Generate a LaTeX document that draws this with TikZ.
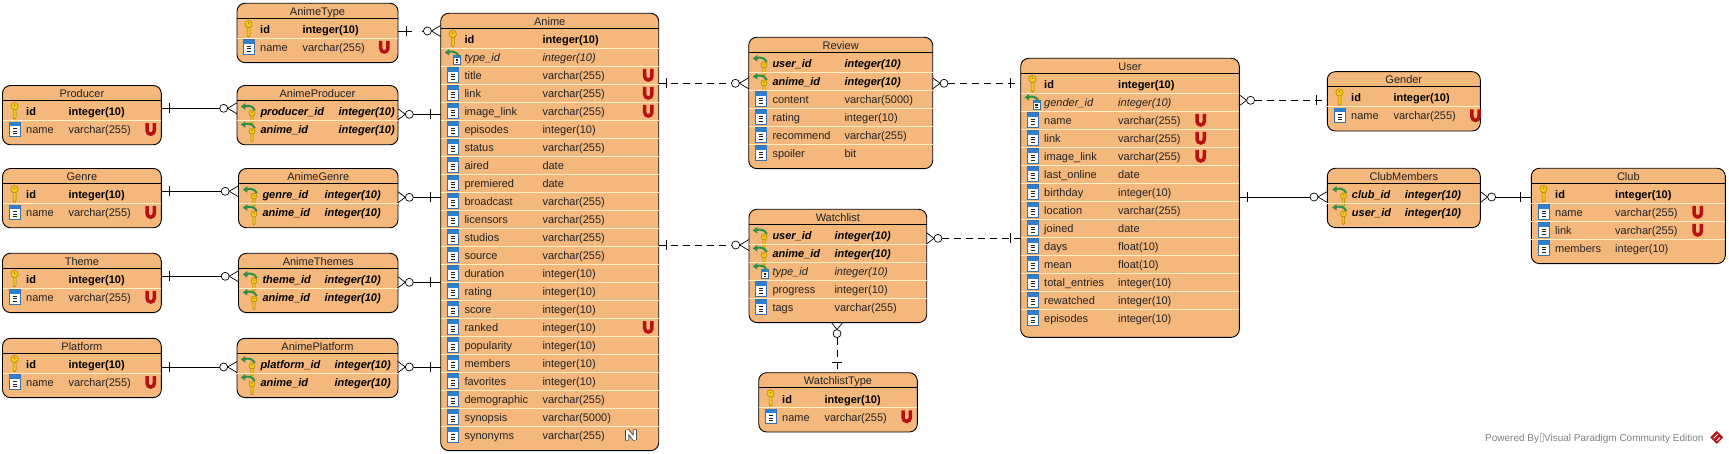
\documentclass[tikz,border=0pt]{standalone}
\usepackage{fontspec}
\setmainfont{Liberation Sans}
\usetikzlibrary{calc}
\definecolor{boxfill}{HTML}{F4B77C}
\definecolor{sepcol}{HTML}{FFEFC4}
\definecolor{inkcol}{HTML}{222222}
\definecolor{keyy}{HTML}{F5C518}
\definecolor{keyd}{HTML}{A98400}
\definecolor{fkgreen}{HTML}{2F8F45}
\definecolor{colblue}{HTML}{2F7FCF}
\definecolor{colline}{HTML}{3A6FA8}
\definecolor{ured}{HTML}{B71212}
\tikzset{
  entity/.style={draw=black,fill=boxfill,line width=0.9pt,rounded corners=8pt,anchor=north west,inner sep=0pt,outer sep=0pt},
  titlest/.style={font=\fontsize{11}{13}\selectfont,text=inkcol,inner sep=0pt,text height=8pt,text depth=0pt},
  cell/.style={font=\fontsize{11}{13}\selectfont,text=inkcol,inner sep=0pt,anchor=west,text height=8pt,text depth=0pt},
  cell col/.style={},
  cell pk/.style={font=\fontsize{11}{13}\selectfont\bfseries,text=black},
  cell pf/.style={font=\fontsize{11}{13}\selectfont\bfseries\itshape,text=black},
  cell fk/.style={font=\fontsize{11}{13}\selectfont\itshape},
  headrule/.style={draw=black,line width=0.8pt},
  seprule/.style={draw=sepcol,line width=0.8pt},
  conn/.style={draw=black,line width=0.8pt},
  dashy/.style={dash pattern=on 7pt off 5pt},
  endline/.style={draw=black,line width=0.7pt},
}
% --- icons, drawn around (0,0) in a local px frame (y grows downward)
\newcommand\keyshape{%
  \fill[keyy,draw=keyd,line width=0.5pt] (-1.5,-2) -- (-1.5,6.5) -- (0,8) -- (1.5,6.5) -- (1.5,-2) -- cycle;
  \fill[keyy,draw=keyd,line width=0.5pt] (0,-5) circle[radius=3.7];
  \fill[keyd] (0,-6) circle[radius=0.9];
}
\newcommand\greenarrow{%
  \draw[fkgreen,line width=2pt] (6,-1) .. controls (4,-5.5) and (-1,-6) .. (-4,-5);
  \fill[fkgreen] (-8,-4.5) -- (-3.5,-8) -- (-3.5,-1.5) -- cycle;
}
\newcommand\colshape{%
  \fill[white,draw=colline,line width=0.6pt] (-5.7,-7.3) rectangle (5.7,7.3);
  \fill[colblue] (-5.7,-7.3) rectangle (5.7,-3);
  \draw[inkcol,line width=1pt] (-2,-0.5) -- (2,-0.5) (-2,2) -- (2,2) (-2,4.5) -- (2,4.5);
}
\newcommand\iconpk{\keyshape}
\newcommand\iconpf{\greenarrow\begin{scope}[shift={(3.2,6)},scale=0.82]\keyshape\end{scope}}
\newcommand\iconfk{%
  \begin{scope}[shift={(4,2.5)},scale=0.62]\colshape\end{scope}\greenarrow}
\newcommand\iconcol{\colshape}
\newcommand\iconU{%
  \draw[ured,line width=3.5pt] (-3.6,-6) -- (-3.6,1.4) arc[start angle=180,end angle=0,radius=3.6] -- (3.6,-6);
}
\newcommand\iconN{%
  \draw[black!70,line width=4pt,miter limit=2] (-3.8,5.6) -- (-3.8,-4.8) -- (3.8,4.8) -- (3.8,-5.6);
  \draw[white,line width=2.2pt,miter limit=2] (-3.8,5) -- (-3.8,-4.8) -- (3.8,4.8) -- (3.8,-5);
}
% --- entities and rows
\newcount\cellno
\def\eExtra{0.7}
\newcommand\Entity[9]{%
  \pgfmathsetmacro\eW{#3-#2}\pgfmathsetmacro\eH{40.6+\eExtra+18*(#5-1)}%
  \node[entity,minimum width=\eW pt,minimum height=\eH pt] (#1) at (#2,#4) {};
  \node[titlest] (#1-title) at ($(#1.north)+(0,8)$) {#6};
  \draw[headrule] ($(#1.north west)+(0,15)$) -- ($(#1.north east)+(0,15)$);
  \def\eName{#1}\def\eTop{#4}\def\eLeft{#2}\def\eRight{#3}\def\eNameX{#7}\def\eTypeX{#8}\def\eUX{#9}\def\eI{0}%
}
\newcommand\rflag{}
\newcommand\rflagU{\begin{scope}[shift={(\eUX,\cy)}]\iconU\end{scope}}
\newcommand\rflagN{\begin{scope}[shift={(631,\cy)}]\iconN\end{scope}}
\newcommand\Row[4]{%
  \pgfmathsetmacro\cy{\eTop+25.7+18*\eI}%
  \pgfmathsetmacro\ty{\cy+0.6}%
  \pgfmathsetmacro\ix{\eNameX-11.5}%
  \pgfmathsetmacro\sy{\cy-9}%
  \ifnum\eI>0 \draw[seprule] (\eLeft,\sy) -- (\eRight,\sy);\fi
  \begin{scope}[shift={(\ix,\cy)}]\csname icon#1\endcsname\end{scope}
  \global\advance\cellno by 1
  \node[cell,cell #1] (n\the\cellno) at (\eNameX,\ty) {#2};
  \node[cell,cell #1] (t\the\cellno) at (\eTypeX,\ty) {#3};
  \csname rflag#4\endcsname
  \pgfmathtruncatemacro\eI{\eI+1}%
}
% --- connector ends, local frame: +x points away from the box
\newcommand\tipone[3]{\draw[endline,shift={#1},rotate=#2] (#3,-5) -- (#3,5);}
\newcommand\tipmany[3]{%
  \draw[endline,shift={#1},rotate=#2] (0,-5.5) -- ({#3-4},0) -- (0,5.5);
  \draw[endline,fill=white,shift={#1},rotate=#2] (#3,0) circle[radius=4];}
\def\shoneE{0}\def\shmanyE{15.3}\def\shoneW{0}\def\shmanyW{17.3}
\def\offoneE{8}\def\offmanyE{11.3}\def\offoneW{10.5}\def\offmanyW{13.3}
\newcommand\Link[6]{%
  \coordinate (lky) at (0,#4);
  \edef\sha{\csname sh#5E\endcsname}\edef\shb{\csname sh#6W\endcsname}%
  \draw[conn,#1,shorten <=\sha pt,shorten >=\shb pt] (#2.east |- lky) -- (#3.west |- lky);
  \edef\ofa{\csname off#5E\endcsname}\edef\ofb{\csname off#6W\endcsname}%
  \csname tip#5\endcsname{(#2.east |- lky)}{0}{\ofa}
  \csname tip#6\endcsname{(#3.west |- lky)}{180}{\ofb}
}
\begin{document}
\begin{tikzpicture}[x=1pt,y=-1pt]
\useasboundingbox (0,0) rectangle (1729,454);
\fill[white] (0,0) rectangle (1729,454);

\Entity{animetype}{237}{398}{3.3}{2}{AnimeType}{260}{302.3}{384.3}
\Row{pk}{id}{integer(10)}{}
\Row{col}{name}{varchar(255)}{U}

\Entity{producer}{2.5}{161.3}{85.5}{2}{Producer}{26}{68.3}{150.7}
\Row{pk}{id}{integer(10)}{}
\Row{col}{name}{varchar(255)}{U}

\Entity{aproducer}{237}{398}{85.5}{2}{AnimeProducer}{260.3}{338.3}{0}
\Row{pf}{producer\_id}{integer(10)}{}
\Row{pf}{anime\_id}{integer(10)}{}

\Entity{genre}{2.5}{161.3}{168.5}{2}{Genre}{26}{68.3}{150.7}
\Row{pk}{id}{integer(10)}{}
\Row{col}{name}{varchar(255)}{U}

\Entity{agenre}{238.5}{398}{168.5}{2}{AnimeGenre}{262.3}{324.3}{0}
\Row{pf}{genre\_id}{integer(10)}{}
\Row{pf}{anime\_id}{integer(10)}{}

\Entity{theme}{2.5}{161.3}{253.3}{2}{Theme}{26}{68.3}{150.7}
\Row{pk}{id}{integer(10)}{}
\Row{col}{name}{varchar(255)}{U}

\Entity{athemes}{238.5}{398}{253.3}{2}{AnimeThemes}{262.3}{324.3}{0}
\Row{pf}{theme\_id}{integer(10)}{}
\Row{pf}{anime\_id}{integer(10)}{}

\Entity{platform}{2.5}{161.3}{338.3}{2}{Platform}{26}{68.3}{150.7}
\Row{pk}{id}{integer(10)}{}
\Row{col}{name}{varchar(255)}{U}

\Entity{aplatform}{237}{398}{338.3}{2}{AnimePlatform}{260.3}{334.3}{0}
\Row{pf}{platform\_id}{integer(10)}{}
\Row{pf}{anime\_id}{integer(10)}{}

\Entity{anime}{440.7}{658.7}{13.3}{23}{Anime}{464.3}{542.3}{648.3}
\Row{pk}{id}{integer(10)}{}
\Row{fk}{type\_id}{integer(10)}{}
\Row{col}{title}{varchar(255)}{U}
\Row{col}{link}{varchar(255)}{U}
\Row{col}{image\_link}{varchar(255)}{U}
\Row{col}{episodes}{integer(10)}{}
\Row{col}{status}{varchar(255)}{}
\Row{col}{aired}{date}{}
\Row{col}{premiered}{date}{}
\Row{col}{broadcast}{varchar(255)}{}
\Row{col}{licensors}{varchar(255)}{}
\Row{col}{studios}{varchar(255)}{}
\Row{col}{source}{varchar(255)}{}
\Row{col}{duration}{integer(10)}{}
\Row{col}{rating}{integer(10)}{}
\Row{col}{score}{integer(10)}{}
\Row{col}{ranked}{integer(10)}{U}
\Row{col}{popularity}{integer(10)}{}
\Row{col}{members}{integer(10)}{}
\Row{col}{favorites}{integer(10)}{}
\Row{col}{demographic}{varchar(255)}{}
\Row{col}{synopsis}{varchar(5000)}{}
\Row{col}{synonyms}{varchar(255)}{N}

\Entity{review}{748.7}{932.7}{37.3}{6}{Review}{772.3}{844.3}{0}
\Row{pf}{user\_id}{integer(10)}{}
\Row{pf}{anime\_id}{integer(10)}{}
\Row{col}{content}{varchar(5000)}{}
\Row{col}{rating}{integer(10)}{}
\Row{col}{recommend}{varchar(255)}{}
\Row{col}{spoiler}{bit}{}

\Entity{watchlist}{749}{926.7}{209.3}{5}{Watchlist}{772.3}{834.3}{0}
\Row{pf}{user\_id}{integer(10)}{}
\Row{pf}{anime\_id}{integer(10)}{}
\Row{fk}{type\_id}{integer(10)}{}
\Row{col}{progress}{integer(10)}{}
\Row{col}{tags}{varchar(255)}{}

\Entity{wtype}{758.7}{917.3}{372.7}{2}{WatchlistType}{782}{824.3}{906.7}
\Row{pk}{id}{integer(10)}{}
\Row{col}{name}{varchar(255)}{U}

\def\eExtra{4.4}
\Entity{user}{1020.7}{1239.3}{58.3}{14}{User}{1044}{1118}{1200.7}
\def\eExtra{0.7}
\Row{pk}{id}{integer(10)}{}
\Row{fk}{gender\_id}{integer(10)}{}
\Row{col}{name}{varchar(255)}{U}
\Row{col}{link}{varchar(255)}{U}
\Row{col}{image\_link}{varchar(255)}{U}
\Row{col}{last\_online}{date}{}
\Row{col}{birthday}{integer(10)}{}
\Row{col}{location}{varchar(255)}{}
\Row{col}{joined}{date}{}
\Row{col}{days}{float(10)}{}
\Row{col}{mean}{float(10)}{}
\Row{col}{total\_entries}{integer(10)}{}
\Row{col}{rewatched}{integer(10)}{}
\Row{col}{episodes}{integer(10)}{}

\Entity{gender}{1327.3}{1480.3}{71.7}{2}{Gender}{1351}{1393.3}{1475.5}
\Row{pk}{id}{integer(10)}{}
\Row{col}{name}{varchar(255)}{U}

\Entity{clubm}{1327.3}{1480.3}{168.3}{2}{ClubMembers}{1351.7}{1404.7}{0}
\Row{pf}{club\_id}{integer(10)}{}
\Row{pf}{user\_id}{integer(10)}{}

\Entity{club}{1531.3}{1725.3}{168.3}{4}{Club}{1555}{1615}{1697.7}
\Row{pk}{id}{integer(10)}{}
\Row{col}{name}{varchar(255)}{U}
\Row{col}{link}{varchar(255)}{U}
\Row{col}{members}{integer(10)}{}

% --- connectors
\Link{dash pattern=on 14pt off 10pt}{animetype}{anime}{31}{one}{many}
\Link{}{producer}{aproducer}{108.3}{one}{many}
\Link{}{aproducer}{anime}{114.3}{many}{one}
\Link{}{genre}{agenre}{191.3}{one}{many}
\Link{}{agenre}{anime}{197.3}{many}{one}
\Link{}{theme}{athemes}{276.3}{one}{many}
\Link{}{athemes}{anime}{282.3}{many}{one}
\Link{}{platform}{aplatform}{367}{one}{many}
\Link{}{aplatform}{anime}{367}{many}{one}
\Link{dashy}{anime}{review}{83.3}{one}{many}
\Link{dashy}{anime}{watchlist}{245}{one}{many}
\Link{dashy}{review}{user}{83.3}{many}{one}
\Link{dashy}{watchlist}{user}{238.3}{many}{one}
\Link{dashy}{user}{gender}{100.3}{many}{one}
\Link{}{user}{clubm}{197}{one}{many}
\Link{}{clubm}{club}{197}{many}{one}
% vertical connector Watchlist -- WatchlistType
\coordinate (lkx) at (837,0);
\draw[conn,dashy,shorten <=15pt] (watchlist.south -| lkx) -- (wtype.north -| lkx);
\tipmany{(watchlist.south -| lkx)}{-90}{11}
\tipone{(wtype.north -| lkx)}{90}{10.7}

% --- watermark
\node[anchor=west,inner sep=0pt,text=black!50,font=\fontsize{10}{12}\selectfont,text height=8pt,text depth=0pt] (wm) at (1485,437.3) {Powered By\hspace{5pt}Visual Paradigm Community Edition};
\draw[black!25,line width=0.4pt] (1540.6,433.5) rectangle (1543.4,441);
\begin{scope}[shift={(1716.7,437.3)}]
  \fill[red!65!black!90] (0,-6.5) -- (6.5,0) -- (0,6.5) -- (-6.5,0) -- cycle;
  \draw[white,line width=0.9pt] (-3,1) -- (1,-3) (0,3.5) -- (3,0.5);
\end{scope}
\end{tikzpicture}
\end{document}
